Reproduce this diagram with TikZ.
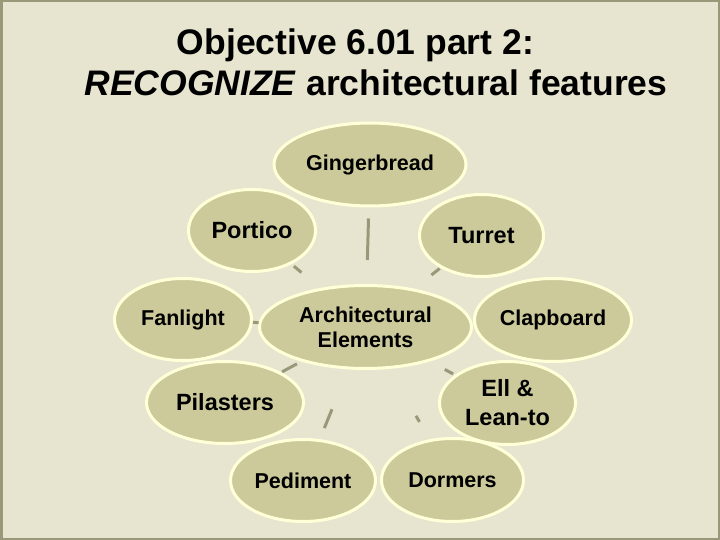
\documentclass[tikz,border=0pt]{standalone}
\usepackage{fontspec}
\setmainfont{Liberation Sans}
\usetikzlibrary{shapes.geometric}
\definecolor{bgc}{HTML}{E7E5CF}
\definecolor{framec}{HTML}{99997A}
\definecolor{ellfill}{HTML}{CCCA9A}
\definecolor{ellline}{HTML}{FFFFD8}
\definecolor{linkc}{HTML}{99997A}
\begin{document}
\begin{tikzpicture}[x=1pt,y=-1pt,
  bubble/.style={ellipse,draw=ellline,fill=ellfill,line width=3pt,inner sep=0pt,
    align=center,font=\fontsize{21.5}{25}\selectfont\bfseries},
  big/.style={font=\fontsize{23.5}{27}\selectfont\bfseries},
  link/.style={draw=linkc,line width=3pt}]
\useasboundingbox (0,0) rectangle (720,540);
\fill[bgc] (0,0) rectangle (720,540);
\draw[framec,line width=2.5pt] (1.25,1.25) rectangle (718.75,538.75);
% title
\node[anchor=base,font=\fontsize{35.5}{40}\selectfont\bfseries] (t1) at (355.5,55) {Objective 6.01 part 2:};
\node[anchor=base,font=\fontsize{35.5}{40}\selectfont\bfseries] (t2) at (376,96) {\textit{RECOGNIZE} architectural features};
% ellipses
\node[bubble,minimum width=192pt,minimum height=83pt] (ginger) at (370,164.5) {Gingerbread};
\node[bubble,big,minimum width=127pt,minimum height=82pt] (portico) at (252,230.5) {Portico};
\node[bubble,big,minimum width=124pt,minimum height=82pt] (turret) at (481.5,235.5) {Turret};
\node[bubble,minimum width=137pt,minimum height=82pt] (fan) at (183,319.5) {Fanlight};
\node[bubble,minimum width=157pt,minimum height=83pt] (clap) at (553,320) {Clapboard};
\node[bubble,minimum width=212pt,minimum height=83pt] (arch) at (365.5,327) {Architectural\\Elements};
\node[bubble,big,minimum width=157pt,minimum height=82pt] (pil) at (225,402.5) {Pilasters};
\node[bubble,big,minimum width=136pt,minimum height=83pt] (ell) at (507.5,403) {Ell \&\\[2pt]Lean-to};
\node[bubble,minimum width=145pt,minimum height=82pt] (ped) at (303,480.5) {Pediment};
\node[bubble,minimum width=142pt,minimum height=83pt] (dorm) at (452.5,480) {Dormers};
% connectors
\draw[link,shorten <=24pt,shorten >=11pt] (arch) -- (ginger);
\draw[link,shorten <=24pt,shorten >=3pt] (arch) -- (portico);
\draw[link,shorten <=22pt,shorten >=1pt] (arch) -- (turret);
\draw[link] (arch) -- (fan);
\draw[link,shorten <=5pt,shorten >=1pt] (arch) -- (pil);
\draw[link,shorten <=17pt,shorten >=2pt] (arch) -- (ell);
\draw[link,shorten <=43pt,shorten >=12pt] (arch) -- (ped);
\draw[link,shorten <=54pt,shorten >=20pt] (arch) -- (dorm);
\end{tikzpicture}
\end{document}
